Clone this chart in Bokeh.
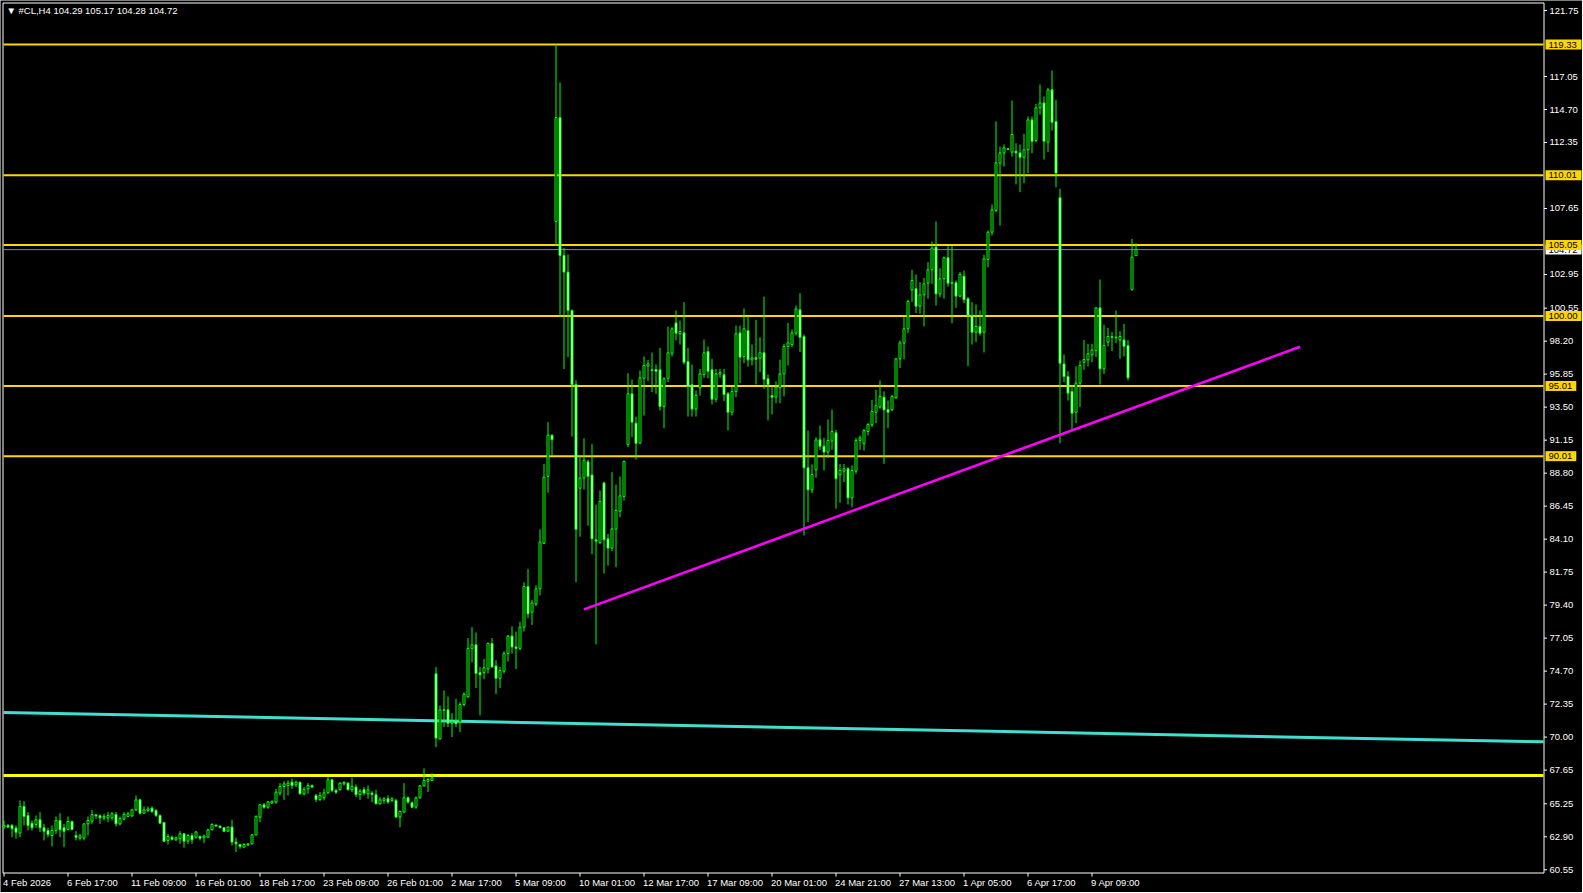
from bokeh.plotting import figure
from bokeh.models import Range1d
from bokeh.core.properties import value
from bokeh.embed import file_html
from bokeh.resources import INLINE

# ---------------- data ----------------
SYMBOL = "#CL,H4"

opens = [63.59, 63.71, 63.71, 63.52, 63.16, 65.06, 64.42, 63.87, 63.78, 64.11,
         63.54, 63.35, 62.99, 63.35, 64.06, 63.54, 63.42, 63.99, 62.99, 62.80,
         62.80, 63.82, 64.01, 64.47, 64.39, 64.23, 64.25, 64.25, 64.49, 63.82,
         64.16, 64.35, 64.39, 64.82, 65.53, 64.58, 64.77, 64.94, 64.77, 64.42,
         63.92, 62.64, 62.87, 62.68, 62.76, 63.11, 62.59, 62.99, 62.87, 62.92,
         62.83, 62.87, 63.40, 63.73, 63.66, 63.54, 63.30, 63.59, 62.52, 62.35,
         62.16, 62.31, 62.40, 63.04, 64.30, 65.18, 65.01, 65.30, 65.37, 66.01,
         66.48, 66.55, 66.79, 66.60, 66.77, 65.96, 66.32, 66.55, 65.84, 65.56,
         65.68, 66.03, 66.96, 66.20, 66.25, 66.67, 66.72, 66.25, 66.44, 65.91,
         66.25, 65.96, 66.01, 65.89, 65.25, 65.49, 65.61, 65.49, 65.49, 64.30,
         64.66, 65.68, 65.32, 65.01, 65.68, 66.53, 66.86, 66.91, 74.51, 69.88,
         71.94, 71.94, 70.99, 71.14, 71.07, 72.32, 72.87, 76.32, 76.57, 74.59,
         74.59, 74.85, 76.67, 75.07, 74.19, 74.69, 75.95, 77.20, 76.42, 76.32,
         77.83, 80.72, 78.90, 79.47, 80.56, 83.80, 88.57, 91.50, 106.73, 114.12,
         104.31, 103.12, 100.39, 95.11, 87.73, 88.45, 89.61, 88.67, 84.05, 83.86,
         88.10, 84.12, 83.46, 84.81, 86.09, 87.14, 90.84, 94.45, 92.36, 90.93,
         95.56, 96.42, 96.16, 96.18, 96.16, 93.55, 95.56, 97.34, 99.50, 98.72,
         98.79, 96.75, 95.09, 93.36, 94.88, 95.82, 97.46, 96.16, 94.07, 95.85,
         95.80, 94.45, 93.14, 94.61, 98.79, 97.11, 98.96, 96.87, 97.01, 96.99,
         97.37, 95.52, 94.33, 94.21, 94.88, 95.87, 97.82, 97.96, 98.77, 100.43,
         98.53, 89.18, 87.61, 89.04, 91.17, 90.72, 90.30, 91.08, 91.67, 88.68,
         88.94, 89.11, 87.04, 88.94, 91.13, 90.89, 91.77, 92.24, 93.14, 93.50,
         94.21, 93.33, 93.31, 94.17, 96.94, 98.06, 99.08, 101.86, 101.93, 100.69,
         101.50, 102.33, 103.28, 104.90, 101.57, 102.64, 104.14, 102.33, 102.36, 101.41,
         102.83, 101.22, 100.03, 98.84, 99.25, 98.84, 104.02, 105.96, 107.51, 110.88,
         111.61, 111.90, 111.66, 111.73, 111.61, 111.30, 111.83, 113.96, 112.49, 114.82,
         115.17, 112.37, 116.10, 113.85, 108.41, 96.58, 95.68, 94.62, 93.14, 95.21,
         96.70, 96.87, 97.23, 97.54, 100.57, 96.23, 98.13, 98.53, 98.48, 98.29,
         98.29, 97.89, 101.86, 104.29]

highs = [64.06, 63.82, 63.82, 63.71, 65.49, 65.44, 64.66, 64.06, 64.42, 64.66,
         63.82, 63.54, 63.71, 64.35, 64.58, 63.82, 64.35, 64.06, 63.30, 63.11,
         63.87, 64.35, 64.82, 64.49, 64.49, 64.54, 64.66, 64.66, 64.66, 64.35,
         64.66, 64.66, 64.89, 65.84, 65.61, 65.06, 65.06, 65.06, 64.89, 64.49,
         63.94, 63.11, 62.99, 62.92, 63.30, 63.16, 63.11, 63.16, 63.30, 62.99,
         63.06, 63.47, 63.87, 63.78, 63.71, 63.59, 63.63, 64.11, 62.83, 62.40,
         62.45, 62.47, 63.11, 64.42, 65.25, 65.30, 65.44, 65.49, 66.32, 66.72,
         66.86, 66.91, 67.03, 66.91, 66.86, 66.44, 66.72, 66.63, 65.96, 66.08,
         66.32, 67.15, 67.03, 66.32, 66.79, 66.86, 66.79, 67.10, 66.63, 66.32,
         66.44, 66.55, 66.15, 66.25, 65.72, 65.72, 65.84, 65.72, 65.61, 64.77,
         66.72, 65.77, 65.42, 65.77, 66.60, 67.77, 67.10, 67.43, 74.98, 72.25,
         73.32, 72.89, 71.71, 72.73, 72.49, 73.20, 77.05, 77.83, 77.45, 75.00,
         75.57, 76.73, 77.05, 75.47, 75.00, 76.10, 77.27, 77.89, 77.52, 78.21,
         81.03, 81.98, 79.78, 80.82, 84.80, 89.46, 92.44, 91.56, 119.33, 116.63,
         104.85, 104.38, 100.45, 95.42, 90.02, 91.28, 89.77, 90.87, 86.56, 87.57,
         88.20, 84.48, 88.87, 87.99, 88.56, 89.70, 95.92, 95.47, 92.83, 96.11,
         97.11, 96.87, 97.39, 96.54, 97.72, 95.63, 99.24, 99.20, 100.38, 99.67,
         100.98, 97.72, 96.54, 94.69, 96.23, 98.32, 97.82, 96.94, 96.23, 96.23,
         96.23, 94.57, 94.97, 99.31, 99.31, 100.53, 99.96, 97.96, 99.72, 98.48,
         101.38, 95.82, 94.92, 95.33, 96.89, 98.01, 99.50, 99.03, 100.74, 101.62,
         98.68, 91.84, 89.42, 91.36, 92.19, 91.32, 92.62, 93.33, 91.89, 89.46,
         89.46, 89.23, 89.35, 91.32, 91.48, 91.96, 92.36, 94.02, 94.73, 95.40,
         94.62, 93.98, 94.38, 97.01, 98.25, 99.91, 101.15, 103.28, 102.95, 102.40,
         102.71, 103.83, 105.30, 106.72, 103.40, 104.23, 104.97, 104.97, 102.52, 103.12,
         103.23, 101.34, 100.98, 100.81, 100.39, 104.35, 106.08, 107.93, 113.85, 112.06,
         112.21, 111.95, 115.34, 112.30, 112.21, 112.97, 114.20, 114.20, 115.10, 116.48,
         115.63, 116.24, 117.48, 115.39, 109.05, 97.25, 96.06, 95.04, 96.40, 96.82,
         98.29, 98.01, 98.01, 100.62, 102.59, 99.36, 99.15, 98.84, 100.38, 98.91,
         99.43, 98.29, 105.49, 105.17]

lows = [63.47, 63.54, 62.87, 62.76, 62.87, 63.71, 63.35, 63.35, 63.54, 63.23,
        62.64, 62.87, 62.21, 63.11, 62.87, 62.16, 63.35, 63.35, 62.64, 62.64,
        62.64, 62.99, 63.82, 64.18, 63.82, 64.06, 63.94, 64.06, 63.63, 63.71,
        64.06, 64.30, 64.30, 64.73, 64.49, 64.54, 64.66, 64.58, 64.30, 63.82,
        62.52, 62.35, 62.64, 62.59, 62.40, 62.12, 62.40, 62.40, 62.76, 62.64,
        62.45, 62.83, 63.35, 63.63, 63.52, 63.23, 63.23, 62.28, 61.81, 62.04,
        62.12, 62.26, 62.35, 62.99, 63.94, 64.89, 64.89, 65.25, 65.25, 65.84,
        65.53, 65.84, 66.32, 66.44, 65.91, 65.84, 65.96, 66.39, 65.37, 65.44,
        65.49, 65.96, 66.08, 65.96, 66.20, 66.55, 66.20, 66.08, 65.72, 65.53,
        65.84, 65.61, 65.37, 65.20, 65.20, 65.25, 65.25, 65.37, 64.25, 63.59,
        64.58, 65.25, 64.94, 64.89, 65.61, 66.48, 66.08, 66.86, 69.29, 69.81,
        70.71, 70.71, 70.00, 70.71, 70.35, 72.18, 72.80, 75.32, 73.50, 71.55,
        74.12, 74.53, 74.95, 73.06, 73.50, 74.53, 75.38, 75.95, 74.85, 76.20,
        77.52, 78.46, 77.99, 79.34, 80.09, 83.74, 87.41, 90.08, 105.01, 99.98,
        96.21, 97.06, 91.40, 81.03, 84.27, 87.63, 85.06, 83.02, 76.60, 83.74,
        81.66, 82.22, 83.24, 82.10, 85.66, 86.85, 90.65, 91.36, 89.77, 90.89,
        92.90, 95.35, 94.57, 94.45, 93.26, 92.00, 95.28, 97.11, 98.25, 97.96,
        96.54, 92.83, 92.83, 92.83, 94.33, 95.59, 95.56, 93.69, 93.85, 95.59,
        93.93, 91.84, 92.90, 94.21, 95.21, 96.63, 96.39, 96.47, 95.11, 95.99,
        94.80, 92.55, 92.98, 93.78, 93.78, 94.26, 96.47, 97.77, 98.60, 97.42,
        84.36, 85.31, 87.37, 88.47, 90.46, 88.99, 89.89, 90.46, 86.26, 86.69,
        88.16, 86.57, 86.38, 88.75, 90.46, 90.41, 91.48, 92.08, 92.36, 93.38,
        89.46, 92.00, 93.22, 94.09, 96.28, 96.90, 98.77, 100.98, 100.20, 100.15,
        99.25, 101.22, 102.28, 100.74, 101.33, 101.22, 102.09, 99.48, 100.58, 101.34,
        100.91, 96.42, 97.96, 98.13, 98.60, 97.39, 103.47, 105.73, 107.39, 106.44,
        110.64, 111.83, 111.35, 109.36, 108.81, 109.45, 110.17, 111.59, 112.37, 114.34,
        111.14, 111.66, 113.20, 109.17, 90.93, 95.28, 93.97, 91.79, 92.36, 93.50,
        96.16, 96.40, 96.70, 97.06, 95.11, 95.87, 97.82, 97.49, 98.06, 96.94,
        97.11, 95.40, 101.81, 104.28]

closes = [63.71, 63.59, 63.47, 63.23, 65.06, 64.35, 63.71, 63.54, 64.11, 63.54,
          63.30, 63.06, 63.35, 64.06, 63.40, 63.30, 63.99, 63.42, 62.87, 62.95,
          63.82, 64.06, 64.49, 64.39, 64.25, 64.35, 64.42, 64.54, 63.82, 64.20,
          64.49, 64.54, 64.82, 65.53, 64.58, 64.82, 64.89, 64.70, 64.42, 63.87,
          62.59, 62.92, 62.73, 62.83, 63.11, 62.59, 62.99, 62.68, 63.25, 62.80,
          62.95, 63.40, 63.78, 63.66, 63.54, 63.30, 63.59, 62.52, 62.40, 62.21,
          62.35, 62.40, 63.04, 64.35, 65.18, 65.01, 65.39, 65.42, 66.08, 66.48,
          66.67, 66.72, 66.55, 66.77, 65.96, 66.27, 66.55, 66.44, 65.56, 65.84,
          66.03, 66.96, 66.20, 66.08, 66.72, 66.77, 66.25, 66.48, 65.91, 66.15,
          66.01, 66.25, 65.91, 65.25, 65.53, 65.61, 65.37, 65.61, 64.30, 64.70,
          65.68, 65.37, 65.01, 65.68, 66.53, 66.91, 66.98, 67.10, 69.93, 71.94,
          71.90, 70.99, 71.06, 70.95, 72.32, 73.04, 76.32, 76.57, 74.53, 74.44,
          74.94, 76.67, 75.00, 74.19, 74.75, 75.95, 77.20, 76.42, 76.32, 77.83,
          80.72, 78.77, 79.56, 80.56, 83.89, 88.51, 91.50, 91.18, 114.12, 104.31,
          103.12, 100.39, 95.11, 84.80, 88.45, 89.71, 88.57, 84.12, 83.96, 86.78,
          84.05, 83.46, 84.83, 86.14, 87.18, 89.63, 94.45, 92.43, 90.93, 95.59,
          96.47, 96.58, 96.11, 96.06, 93.55, 95.52, 97.37, 99.08, 98.77, 98.89,
          96.70, 94.97, 93.36, 94.33, 95.87, 97.37, 96.06, 94.07, 95.87, 95.97,
          94.40, 93.14, 94.61, 98.72, 97.06, 99.08, 96.87, 97.01, 96.92, 97.37,
          95.49, 95.11, 94.21, 94.92, 95.87, 97.82, 98.08, 98.79, 100.50, 98.48,
          89.18, 87.61, 88.70, 91.17, 90.72, 90.30, 91.13, 91.77, 88.40, 88.99,
          89.11, 87.04, 88.99, 91.13, 91.32, 91.84, 92.27, 93.19, 93.60, 94.26,
          93.31, 93.14, 94.26, 96.94, 98.08, 99.08, 101.03, 102.52, 100.69, 101.50,
          102.28, 103.28, 104.83, 101.57, 102.64, 104.14, 102.33, 102.36, 101.41, 102.95,
          101.15, 100.03, 98.84, 99.25, 98.77, 104.06, 105.96, 107.55, 110.90, 111.61,
          111.97, 111.85, 112.92, 111.61, 111.30, 111.83, 113.96, 112.44, 114.82, 115.17,
          112.44, 116.10, 113.80, 110.17, 96.63, 95.68, 94.50, 93.07, 95.21, 96.47,
          96.89, 97.30, 97.58, 100.57, 96.23, 97.89, 98.53, 98.48, 98.44, 98.53,
          97.84, 95.59, 104.18, 104.72]

price_ticks = [121.75, 117.05, 114.70, 112.35, 107.65, 102.95, 100.55, 98.20,
               95.85, 93.50, 91.15, 88.80, 86.45, 84.10, 81.75, 79.40, 77.05,
               74.70, 72.35, 70.00, 67.65, 65.25, 62.90, 60.55]

level_prices = [119.33, 110.01, 105.05, 100.00, 95.01, 90.01]
base_level = 67.26
bid_price = 104.72

time_tick_index = [0, 16, 32, 48, 64, 80, 96, 112, 128, 144, 160, 176, 192,
                   208, 224, 240, 256, 272]
time_tick_labels = ["4 Feb 2026", "6 Feb 17:00", "11 Feb 09:00", "16 Feb 01:00",
                    "18 Feb 17:00", "23 Feb 09:00", "26 Feb 01:00", "2 Mar 17:00",
                    "5 Mar 09:00", "10 Mar 01:00", "12 Mar 17:00", "17 Mar 09:00",
                    "20 Mar 01:00", "24 Mar 21:00", "27 Mar 13:00", "1 Apr 05:00",
                    "6 Apr 17:00", "9 Apr 09:00"]

magenta_x = [145, 324]
magenta_y = [79.10, 97.80]
cyan_y = [71.75, 69.66]   # value at the left and the right edge of the chart

# ---------------- layout / scales ----------------
LIME = "#00FF00"
GOLD = "#FFD700"
FONT = value("Liberation Sans")
FS = "9.5px"

W, H = 1582, 892
PX_PER_BAR = 4.0
BAR0_PX = 3.5
PX_PER_UNIT = 14.04
REF_PRICE, REF_PX = 119.33, 44.0
XS = -BAR0_PX / PX_PER_BAR
XE = XS + W / PX_PER_BAR
YE = REF_PRICE + REF_PX / PX_PER_UNIT
YS = YE - H / PX_PER_UNIT


def xd(px):
    return XS + px / PX_PER_BAR


def yd(py):
    return YE - py / PX_PER_UNIT


CL, CR = xd(2.5), xd(1543.5)       # chart box
CT, CB = yd(2.5), yd(872.5)

p = figure(width=W, height=H, x_range=Range1d(XS, XE), y_range=Range1d(YS, YE),
           output_backend="svg", toolbar_location=None,
           x_axis_location=None, y_axis_location=None,
           background_fill_color="black", border_fill_color="black",
           min_border=0)
p.grid.visible = False
p.outline_line_color = None

# chart box border
p.segment(x0=[CL, CL, CL, CR], y0=[CT, CB, CT, CT], x1=[CR, CR, CL, CR], y1=[CT, CB, CB, CB],
          line_color="white", line_width=1)

# price scale (right)
n_pt = len(price_ticks)
p.segment(x0=[CR] * n_pt, x1=[xd(1546.5)] * n_pt, y0=price_ticks, y1=price_ticks,
          line_color="white", line_width=1)
p.text(x=[xd(1549)] * n_pt, y=price_ticks, text=[f"{t:.2f}" for t in price_ticks],
       text_baseline="middle", text_align="left", text_color="white",
       text_font=FONT, text_font_size=FS)

# time scale (bottom)
n_tt = len(time_tick_index)
p.segment(x0=time_tick_index, x1=time_tick_index, y0=[CB] * n_tt, y1=[yd(876)] * n_tt,
          line_color="white", line_width=1)
p.text(x=time_tick_index, y=[yd(876.5)] * n_tt, text=time_tick_labels, x_offset=-1,
       text_baseline="top", text_align="left", text_color="white",
       text_font=FONT, text_font_size=FS)

# trend / support lines
p.line([xd(3), xd(1543)], cyan_y, line_color="#40E0D0", line_width=3)
n_lv = len(level_prices)
p.segment(x0=[xd(3)] * n_lv, x1=[xd(1543)] * n_lv, y0=level_prices, y1=level_prices,
          line_color=GOLD, line_width=2)
p.segment(x0=[xd(3)], x1=[xd(1543)], y0=[base_level], y1=[base_level],
          line_color="#FFFF00", line_width=3)
p.segment(x0=[xd(3)], x1=[xd(1543)], y0=[bid_price], y1=[bid_price],
          line_color="#778899", line_width=1)

# candles
n = len(closes)
idx = list(range(n))
bull = [i for i in idx if closes[i] >= opens[i]]
bear = [i for i in idx if closes[i] < opens[i]]
p.segment(x0=idx, y0=lows, x1=idx, y1=highs, line_color=LIME, line_width=1)
p.vbar(x=bull, width=0.5,
       top=[closes[i] for i in bull], bottom=[opens[i] for i in bull],
       fill_color="black", line_color=LIME, line_width=1)
p.vbar(x=bear, width=0.5,
       top=[opens[i] for i in bear], bottom=[closes[i] for i in bear],
       fill_color="white", line_color=LIME, line_width=1)
doji = [i for i in idx if abs(closes[i] - opens[i]) < 0.04]
p.segment(x0=[i - 0.25 for i in doji], x1=[i + 0.25 for i in doji],
          y0=[closes[i] for i in doji], y1=[closes[i] for i in doji],
          line_color=LIME, line_width=1)

p.line(magenta_x, magenta_y, line_color="#FF00FF", line_width=2.5)

# header
header = "\u25bc {}  {:.2f} {:.2f} {:.2f} {:.2f}".format(
    SYMBOL, opens[-1], highs[-1], lows[-1], closes[-1])
p.text(x=[xd(6)], y=[yd(10)], text=[header], text_baseline="middle", text_align="left",
       text_color="white", text_font=FONT, text_font_size=FS)


# price tags on the scale
def tag_width(s):
    return sum(2.64 if ch == "." else 5.28 for ch in s) + 7


def add_tags(prices, fill):
    texts = [f"{v:.2f}" for v in prices]
    half = 5 / PX_PER_UNIT
    p.quad(left=[xd(1545)] * len(prices), right=[xd(1545 + tag_width(t)) for t in texts],
           top=[v + half for v in prices], bottom=[v - half for v in prices],
           fill_color=fill, line_color=None)
    p.text(x=[xd(1548)] * len(prices), y=prices, text=texts, text_baseline="middle",
           text_align="left", text_color="black", text_font=FONT, text_font_size=FS)


add_tags([bid_price], "white")
add_tags(level_prices, GOLD)

open("out.html", "w").write(file_html(p, INLINE))
